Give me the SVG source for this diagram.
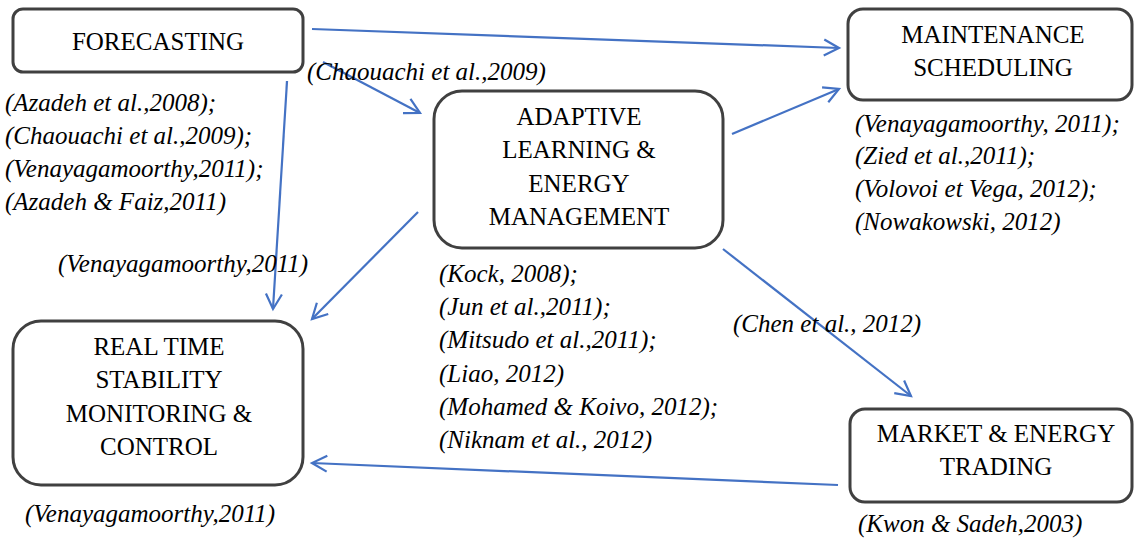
<svg xmlns="http://www.w3.org/2000/svg" width="1134" height="540" viewBox="0 0 1134 540">
  <style>
    .box { fill: #ffffff; stroke: #404040; stroke-width: 3; }
    .title { font-family: "Liberation Serif", "Times New Roman", serif; font-size: 25px; fill: #000; text-anchor: middle; }
    .cite { font-family: "Liberation Serif", "Times New Roman", serif; font-size: 25px; font-style: italic; fill: #000; }
    .link { fill: none; stroke: #4472C4; stroke-width: 2.2; marker-end: url(#arrow); }
  </style>
  <defs>
    <marker id="arrow" markerUnits="userSpaceOnUse" markerWidth="20" markerHeight="20" viewBox="0 0 20 20" refX="17" refY="10" orient="auto">
      <path d="M2,2 L17,10 L2,18" fill="none" stroke="#4472C4" stroke-width="2.2"/>
    </marker>
  </defs>
  <rect width="1134" height="540" fill="#ffffff"/>

  <!-- connectors -->
  <g id="connectors">
    <line class="link" x1="312" y1="29" x2="839" y2="48"/>
    <line class="link" x1="323" y1="62" x2="420" y2="113"/>
    <line class="link" x1="287" y1="81" x2="273" y2="309"/>
    <line class="link" x1="418" y1="212" x2="312" y2="319"/>
    <line class="link" x1="732" y1="134" x2="839" y2="89"/>
    <line class="link" x1="723" y1="249" x2="911" y2="396"/>
    <line class="link" x1="838" y1="485" x2="312" y2="463"/>
  </g>

  <g id="forecasting">
    <rect class="box" x="13" y="9" width="290" height="63" rx="10"/>
    <text class="title" x="158" y="50">FORECASTING</text>
  </g>

  <g id="maintenance">
    <rect class="box" x="848" y="9" width="284" height="91" rx="15"/>
    <text class="title" x="993" y="43">MAINTENANCE</text>
    <text class="title" x="993" y="76">SCHEDULING</text>
  </g>

  <g id="adaptive">
    <rect class="box" x="434" y="91" width="289" height="157" rx="28"/>
    <text class="title" x="579" y="125">ADAPTIVE</text>
    <text class="title" x="579" y="158">LEARNING &amp;</text>
    <text class="title" x="579" y="192">ENERGY</text>
    <text class="title" x="579" y="225">MANAGEMENT</text>
  </g>

  <g id="realtime">
    <rect class="box" x="13" y="321" width="290" height="164" rx="28"/>
    <text class="title" x="159" y="355">REAL TIME</text>
    <text class="title" x="159" y="388">STABILITY</text>
    <text class="title" x="159" y="422">MONITORING &amp;</text>
    <text class="title" x="159" y="455">CONTROL</text>
  </g>

  <g id="market">
    <rect class="box" x="850" y="409" width="282" height="93" rx="15"/>
    <text class="title" x="996" y="442">MARKET &amp; ENERGY</text>
    <text class="title" x="996" y="475">TRADING</text>
  </g>

  <!-- citation labels -->
  <g id="citations">
    <text class="cite" x="5" y="111">(Azadeh et al.,2008);</text>
    <text class="cite" x="5" y="144">(Chaouachi et al.,2009);</text>
    <text class="cite" x="5" y="177">(Venayagamoorthy,2011);</text>
    <text class="cite" x="5" y="210">(Azadeh &amp; Faiz,2011)</text>

    <text class="cite" x="307" y="80">(Chaouachi et al.,2009)</text>

    <text class="cite" x="855" y="132">(Venayagamoorthy, 2011);</text>
    <text class="cite" x="855" y="164">(Zied et al.,2011);</text>
    <text class="cite" x="855" y="197">(Volovoi et Vega, 2012);</text>
    <text class="cite" x="855" y="230">(Nowakowski, 2012)</text>

    <text class="cite" x="58" y="272">(Venayagamoorthy,2011)</text>

    <text class="cite" x="439" y="282">(Kock, 2008);</text>
    <text class="cite" x="439" y="315">(Jun et al.,2011);</text>
    <text class="cite" x="439" y="348">(Mitsudo et al.,2011);</text>
    <text class="cite" x="439" y="382">(Liao, 2012)</text>
    <text class="cite" x="439" y="415">(Mohamed &amp; Koivo, 2012);</text>
    <text class="cite" x="439" y="448">(Niknam et al., 2012)</text>

    <text class="cite" x="733" y="332">(Chen et al., 2012)</text>

    <text class="cite" x="25" y="522">(Venayagamoorthy,2011)</text>

    <text class="cite" x="858" y="532">(Kwon &amp; Sadeh,2003)</text>
  </g>
</svg>
